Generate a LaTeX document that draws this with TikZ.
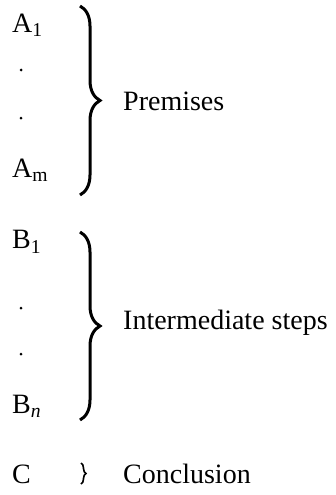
\documentclass[tikz,border=0pt]{standalone}
\usepackage{fontspec}
\setmainfont{Liberation Serif}
\usepackage{tikz}
\usetikzlibrary{decorations.pathreplacing}

\tikzset{
  item/.style={anchor=west, inner sep=0pt, font=\fontsize{28}{32}\selectfont},
  lbl/.style={anchor=west, inner sep=0pt, font=\fontsize{28}{32}\selectfont},
  vdot/.style={circle, fill=black, inner sep=0pt, minimum size=3pt},
  bigbrace/.style={decorate, line width=3pt, decoration={brace, amplitude=20pt}},
  smallbrace/.style={decorate, line width=1.6pt, decoration={brace, amplitude=5pt}}
}

\begin{document}
\begin{tikzpicture}[x=1pt,y=-1pt]
			\useasboundingbox (0,0) rectangle (335,495);
			% premises
			\node[item] (a1) at (12,25) {A\textsubscript{1}};
			\node[vdot] (da1) at (21,70) {};
			\node[vdot] (da2) at (21,118) {};
			\node[item] (am) at (12,170) {A\textsubscript{m}};
			\coordinate (pa) at (80,6);
			\coordinate (pb) at (80,195);
			\draw[bigbrace] (pa) -- (pb);
			\node[lbl] (prem) at (123,101) {Premises};
			% intermediate steps
			\node[item] (b1) at (12,242) {B\textsubscript{1}};
			\node[vdot] (db1) at (21,308) {};
			\node[vdot] (db2) at (21,354) {};
			\node[item] (bn) at (12,406) {B\textsubscript{\itshape n}};
			\coordinate (ia) at (80,232);
			\coordinate (ib) at (80,420);
			\draw[bigbrace] (ia) -- (ib);
			\node[lbl] (inter) at (123,323) {Intermediate steps};
			% conclusion
			\node[item] (c) at (12,474) {C};
			\coordinate (ca) at (81,463);
			\coordinate (cb) at (81,484);
			\draw[smallbrace] (ca) -- (cb);
			\node[lbl] (concl) at (123,474) {Conclusion};
		\end{tikzpicture}
\end{document}
